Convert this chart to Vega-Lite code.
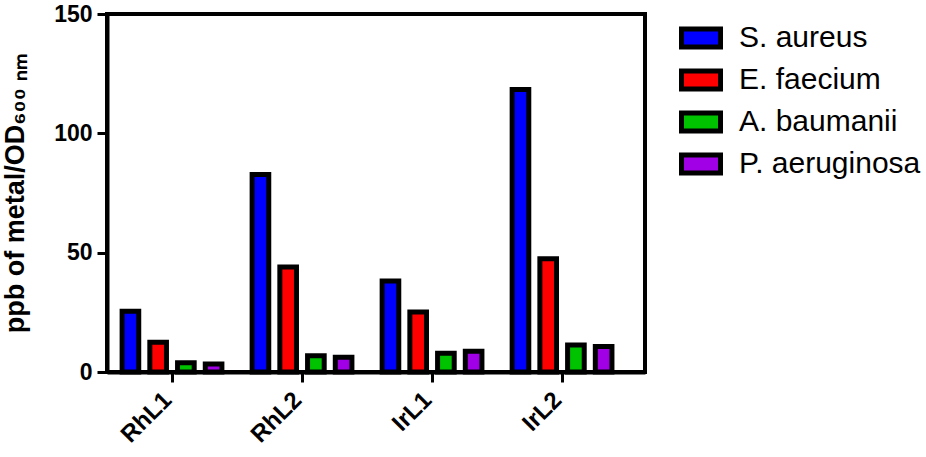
{
  "$schema": "https://vega.github.io/schema/vega-lite/v6.json",
  "width": 538,
  "height": 358,
  "autosize": {"type": "none"},
  "padding": {"left": 107, "top": 14, "right": 281, "bottom": 85},
  "background": "white",
  "config": {
    "view": {"stroke": "black", "strokeWidth": 4},
    "font": "Liberation Sans"
  },
  "data": {
    "values": [
      {"ligand": "RhL1", "species": "S. aureus", "value": 25.5},
      {"ligand": "RhL1", "species": "E. faecium", "value": 12.5},
      {"ligand": "RhL1", "species": "A. baumanii", "value": 3.9},
      {"ligand": "RhL1", "species": "P. aeruginosa", "value": 3.4},
      {"ligand": "RhL2", "species": "S. aureus", "value": 82.7},
      {"ligand": "RhL2", "species": "E. faecium", "value": 44.0},
      {"ligand": "RhL2", "species": "A. baumanii", "value": 6.8},
      {"ligand": "RhL2", "species": "P. aeruginosa", "value": 6.2},
      {"ligand": "IrL1", "species": "S. aureus", "value": 38.1},
      {"ligand": "IrL1", "species": "E. faecium", "value": 25.1},
      {"ligand": "IrL1", "species": "A. baumanii", "value": 7.9},
      {"ligand": "IrL1", "species": "P. aeruginosa", "value": 8.7},
      {"ligand": "IrL2", "species": "S. aureus", "value": 118.4},
      {"ligand": "IrL2", "species": "E. faecium", "value": 47.4},
      {"ligand": "IrL2", "species": "A. baumanii", "value": 11.3},
      {"ligand": "IrL2", "species": "P. aeruginosa", "value": 10.7}
    ]
  },
  "mark": {"type": "bar", "stroke": "black", "strokeWidth": 5},
  "encoding": {
    "x": {
      "field": "ligand",
      "type": "nominal",
      "sort": ["RhL1", "RhL2", "IrL1", "IrL2"],
      "scale": {"paddingInner": 0, "paddingOuter": 0.069, "align": 0},
      "axis": {
        "title": null,
        "labelAngle": -45,
        "labelAlign": "right",
        "labelBaseline": "middle",
        "labelFontSize": 24,
        "labelFontWeight": "bold",
        "labelColor": "black",
        "labelOffset": -4,
        "domainColor": "black",
        "domainWidth": 4,
        "tickColor": "black",
        "tickWidth": 3,
        "tickSize": 10,
        "labelPadding": 14
      }
    },
    "xOffset": {
      "field": "species",
      "type": "nominal",
      "sort": ["S. aureus", "E. faecium", "A. baumanii", "P. aeruginosa"],
      "scale": {"paddingInner": 0.4, "paddingOuter": 0.545}
    },
    "y": {
      "field": "value",
      "type": "quantitative",
      "scale": {"domain": [0, 150], "nice": false},
      "axis": {
        "title": "ppb of metal/OD₆₀₀ ₙₘ",
        "titleFontSize": 27,
        "titleFontWeight": "bold",
        "titleColor": "black",
        "titlePadding": 24,
        "values": [0, 50, 100, 150],
        "grid": false,
        "labelFontSize": 23,
        "labelFontWeight": "bold",
        "labelColor": "black",
        "labelPadding": 5,
        "domainColor": "black",
        "domainWidth": 4,
        "tickColor": "black",
        "tickWidth": 3,
        "tickSize": 10
      }
    },
    "color": {
      "field": "species",
      "type": "nominal",
      "scale": {
        "domain": ["S. aureus", "E. faecium", "A. baumanii", "P. aeruginosa"],
        "range": ["#0000FF", "#FF0000", "#00C300", "#A100E6"]
      },
      "legend": {
        "orient": "none",
        "legendX": 572,
        "legendY": 2,
        "title": null,
        "padding": 0,
        "symbolType": "M-1,-0.46L1,-0.46L1,0.46L-1,0.46Z",
        "symbolSize": 1521,
        "symbolStrokeColor": "black",
        "symbolStrokeWidth": 5,
        "symbolOpacity": 1,
        "labelFontSize": 30,
        "labelLimit": 0,
        "labelColor": "black",
        "labelOffset": 16,
        "rowPadding": 1
      }
    }
  }
}
